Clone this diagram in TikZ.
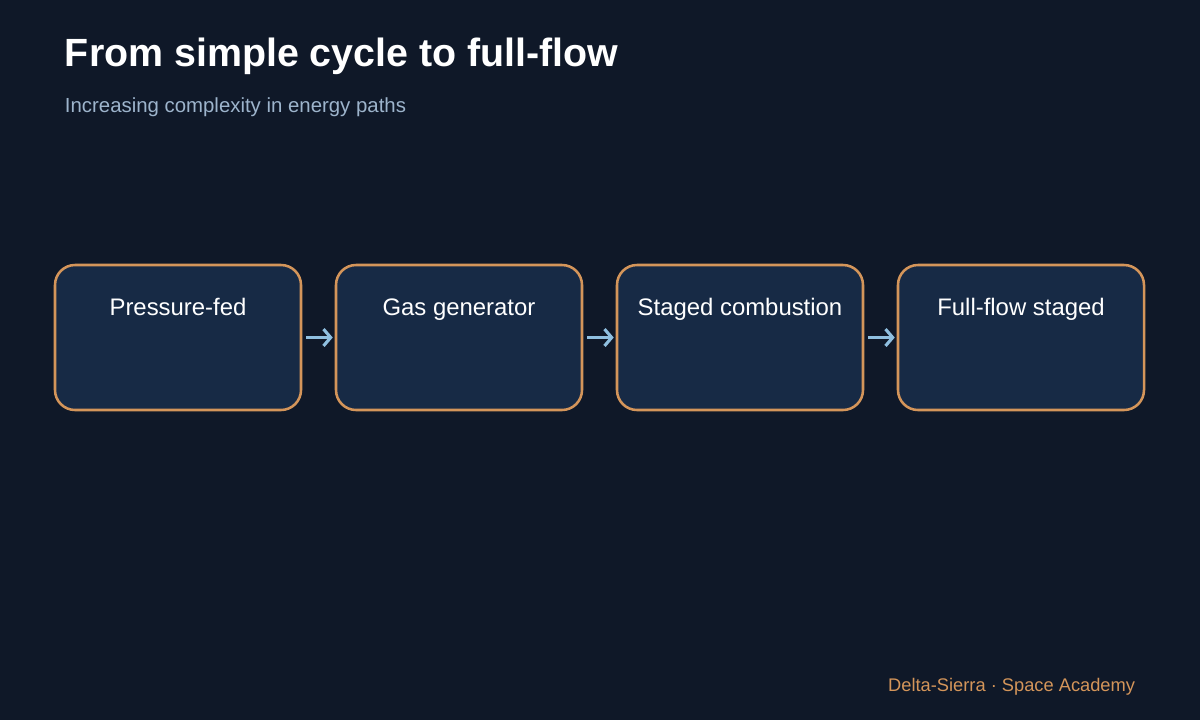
\documentclass[tikz,border=0pt]{standalone}
\usepackage{fontspec}
\setmainfont{Liberation Sans}
\usetikzlibrary{arrows.meta, positioning}
\definecolor{bgcol}{HTML}{0F1828}
\definecolor{boxfill}{HTML}{172A45}
\definecolor{boxedge}{HTML}{D4955A}
\definecolor{arrcol}{HTML}{8FBFE0}
\definecolor{subcol}{HTML}{9DB4CC}
\tikzset{
    stage/.style={rectangle, draw=boxedge, line width=1.8pt, rounded corners=0.5cm, fill=boxfill, minimum width=6.15cm, minimum height=3.625cm},
    lbl/.style={text=white, font=\fontsize{17}{20}\selectfont, anchor=base, yshift=-1.3cm},
    arrow/.style={draw=arrcol, line width=2.6pt, -{Straight Barb[length=1.8mm, width=4.2mm, line width=2.2pt]}}
}
\begin{document}
\begin{tikzpicture}
        % Background
        \fill[bgcol] (0,0) rectangle (30,-18);
        \useasboundingbox (0,0) rectangle (30,-18);

        % Headings
        \node[anchor=base west, text=white, font=\bfseries\fontsize{28}{32}\selectfont] (title) at (1.5,-1.65) {From simple cycle to full-flow};
        \node[anchor=base west, text=subcol, font=\fontsize{14.5}{17}\selectfont] (subtitle) at (1.5,-2.8) {Increasing complexity in energy paths};

        % Stages
        \node[stage, label={[lbl]north:Pressure-fed}] (pfed) at (4.45,-8.4375) {};
        \node[stage, label={[lbl]north:Gas generator}] (gasgen) at (11.475,-8.4375) {};
        \node[stage, label={[lbl]north:Staged combustion}] (staged) at (18.5,-8.4375) {};
        \node[stage, label={[lbl]north:Full-flow staged}] (fullflow) at (25.525,-8.4375) {};

        % Connectors
        \draw[arrow] ([xshift=0.1cm]pfed.east) -- ([xshift=-0.05cm]gasgen.west);
        \draw[arrow] ([xshift=0.1cm]gasgen.east) -- ([xshift=-0.05cm]staged.west);
        \draw[arrow] ([xshift=0.1cm]staged.east) -- ([xshift=-0.05cm]fullflow.west);

        % Footer
        \node[anchor=base east, text=boxedge, font=\fontsize{13}{15}\selectfont] (footer) at (28.5,-17.28) {Delta-Sierra · Space Academy};
\end{tikzpicture}
\end{document}
